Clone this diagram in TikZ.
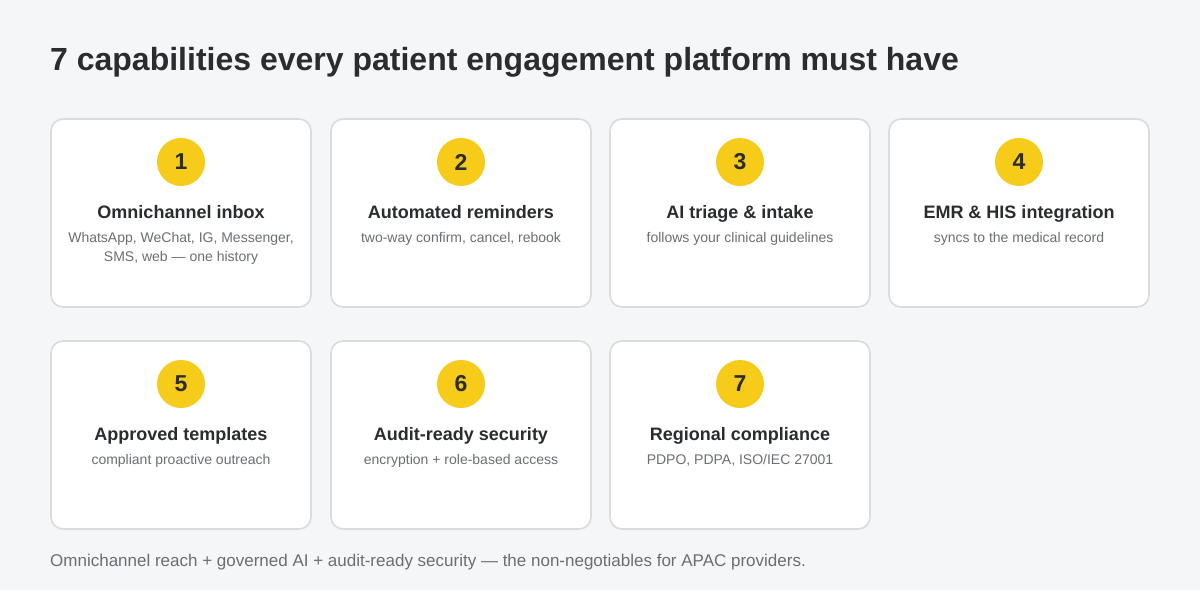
\documentclass[tikz,border=0pt]{standalone}
\usepackage{fontspec}
\setmainfont{Liberation Sans}
\definecolor{bg}{HTML}{F5F6F8}
\definecolor{bd}{HTML}{D9DBDF}
\definecolor{yel}{HTML}{F6CB1A}
\definecolor{ink}{HTML}{2A2C30}
\definecolor{sub}{HTML}{6B6E73}
\begin{document}
\begin{tikzpicture}[x=1pt,y=-1pt,
  card/.style={draw=bd,line width=1.6pt,fill=white,rounded corners=12pt},
  num/.style={circle,fill=yel,minimum size=48pt,inner sep=0pt,font=\fontsize{23}{23}\selectfont\bfseries,text=ink},
  ttl/.style={font=\fontsize{18}{22}\selectfont\bfseries,text=ink},
  dsc/.style={font=\fontsize{14}{19}\selectfont,text=sub,align=center}]
\fill[bg] (0,0) rectangle (1200,590);
\useasboundingbox (0,0) rectangle (1200,590);
\node[anchor=base west,inner sep=0pt,font=\fontsize{32}{32}\selectfont\bfseries,text=ink] (title) at (50,70) {7 capabilities every patient engagement platform must have};
\foreach \i/\x/\y/\t/\d in {
 1/51/119/Omnichannel inbox/{WhatsApp, WeChat, IG, Messenger,\\SMS, web — one history},
 2/331/119/Automated reminders/{two-way confirm, cancel, rebook},
 3/610/119/AI triage \& intake/{follows your clinical guidelines},
 4/889/119/EMR \& HIS integration/{syncs to the medical record},
 5/51/341/Approved templates/{compliant proactive outreach},
 6/331/341/Audit-ready security/{encryption + role-based access},
 7/610/341/Regional compliance/{PDPO, PDPA, ISO/IEC 27001}}{
  \draw[card] (\x,\y) rectangle ++(260,188);
  \node[num] (n\i) at (\x+130,\y+43) {\i};
  \node[ttl,anchor=base] (t\i) at (\x+130,\y+99) {\t};
  \node[dsc,anchor=north] (d\i) at (\x+130,\y+110) {\d};
}
\node[anchor=base west,inner sep=0pt,font=\fontsize{17}{17}\selectfont,text=sub] (foot) at (50,566) {Omnichannel reach + governed AI + audit-ready security — the non-negotiables for APAC providers.};
\end{tikzpicture}
\end{document}
